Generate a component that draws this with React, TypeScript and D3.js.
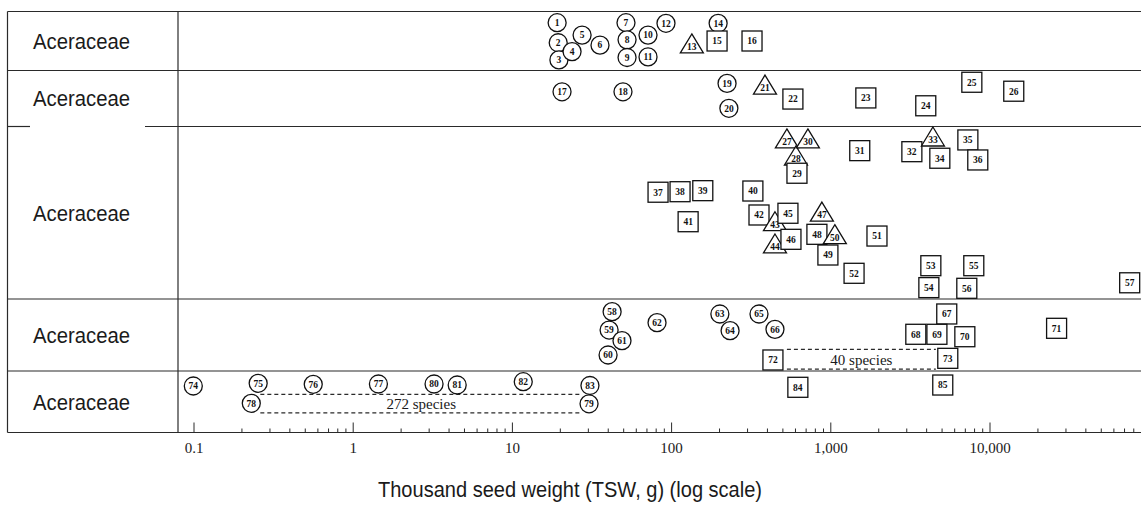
import React, { useEffect, useRef } from "react";
import * as d3 from "d3";

type Shape = "c" | "t" | "s"; // circle, triangle, square
// [species number, marker shape, thousand seed weight (g), vertical level inside band 0..1]
type Seed = [number, Shape, number, number];

const bandLabels = ["Aceraceae", "Aceraceae", "Aceraceae", "Aceraceae", "Aceraceae"];

const band1: Seed[] = [
  [1, "c", 19.1, 0.19], [2, "c", 19.4, 0.53], [3, "c", 19.6, 0.82], [4, "c", 23.7, 0.68],
  [5, "c", 27.4, 0.4], [6, "c", 35.5, 0.57], [7, "c", 51.7, 0.19], [8, "c", 52.5, 0.48],
  [9, "c", 52.5, 0.78], [10, "c", 71.1, 0.4], [11, "c", 71.1, 0.77], [12, "c", 92.2, 0.2],
  [13, "t", 134, 0.55], [14, "c", 196, 0.2], [15, "s", 193, 0.5], [16, "s", 320, 0.5],
];

const band2: Seed[] = [
  [17, "c", 20.5, 0.38], [18, "c", 49.5, 0.38], [19, "c", 223, 0.23], [20, "c", 229, 0.675],
  [21, "t", 386, 0.26], [22, "s", 578, 0.51], [23, "s", 1660, 0.49], [24, "s", 3950, 0.63],
  [25, "s", 7690, 0.21], [26, "s", 14100, 0.37],
];

const band3: Seed[] = [
  [27, "t", 530, 0.072], [28, "t", 604, 0.171], [29, "s", 613, 0.271], [30, "t", 718, 0.072],
  [31, "s", 1520, 0.14], [32, "s", 3230, 0.146], [33, "t", 4380, 0.061], [34, "s", 4840, 0.184],
  [35, "s", 7260, 0.078], [36, "s", 8380, 0.194], [37, "s", 82.2, 0.381], [38, "s", 113, 0.378],
  [39, "s", 157, 0.372], [40, "s", 324, 0.374], [41, "s", 127, 0.552], [42, "s", 354, 0.513],
  [43, "t", 446, 0.552], [44, "t", 446, 0.681], [45, "s", 538, 0.503], [46, "s", 562, 0.654],
  [47, "t", 879, 0.496], [48, "s", 818, 0.625], [49, "s", 959, 0.745], [50, "t", 1060, 0.627],
  [51, "s", 1950, 0.635], [52, "s", 1400, 0.851], [53, "s", 4250, 0.807], [54, "s", 4130, 0.934],
  [55, "s", 7910, 0.807], [56, "s", 7150, 0.938], [57, "s", 75400, 0.906],
];

const band4: Seed[] = [
  [58, "c", 42.3, 0.176], [59, "c", 40.5, 0.431], [60, "c", 39.9, 0.778], [61, "c", 48.8, 0.579],
  [62, "c", 81.0, 0.329], [63, "c", 201, 0.208], [64, "c", 233, 0.44], [65, "c", 354, 0.208],
  [66, "c", 446, 0.421], [67, "s", 5350, 0.208], [68, "s", 3420, 0.49], [69, "s", 4640, 0.49],
  [70, "s", 6950, 0.524], [71, "s", 26200, 0.407], [72, "s", 433, 0.847], [73, "s", 5430, 0.824],
];

const band5: Seed[] = [
  [74, "c", 0.099, 0.244], [75, "c", 0.253, 0.2], [76, "c", 0.561, 0.216], [77, "c", 1.44, 0.211],
  [78, "c", 0.229, 0.525], [79, "c", 30.3, 0.533], [80, "c", 3.22, 0.211], [81, "c", 4.5, 0.228],
  [82, "c", 11.7, 0.174], [83, "c", 30.7, 0.236], [84, "s", 621, 0.265], [85, "s", 5050, 0.228],
];

const bands: Seed[][] = [band1, band2, band3, band4, band5];

// grouped species ranges: [band index, label, from TSW, to TSW, top level, bottom level]
const speciesRanges: [number, string, number, number, number, number][] = [
  [3, "40 species", 530, 4570, 0.7, 0.975],
  [4, "272 species", 0.261, 27.4, 0.38, 0.68],
];

const tickLabels = [0.1, 1, 10, 100, 1000, 10000];
const axisTitle = "Thousand seed weight (TSW, g) (log scale)";

const W = 1141;
const H = 508;
const bandEdges = [11.5, 70.5, 126.5, 299, 371, 432.5];
const frameLeft = 7.5;
const plotLeft = 178;
const ink = "#2a2a2a";
const serif = "'Liberation Serif', 'Times New Roman', serif";
const sans = "'Liberation Sans', Arial, sans-serif";

export default function App() {
  const svgRef = useRef<SVGSVGElement>(null);

  useEffect(() => {
    if (!svgRef.current) return;
    const svg = d3.select(svgRef.current);
    svg.selectAll("*").remove();

    svg.append("rect").attr("width", W).attr("height", H).attr("fill", "white");

    const x = d3.scaleLog().domain([0.1, 10000]).range([194, 990]);
    const axisY = bandEdges[bandEdges.length - 1];

    const frame = svg.append("g").attr("stroke", ink).attr("stroke-width", 1.2).attr("fill", "none");
    // horizontal band rules (the third one has a gap in the label column)
    bandEdges.forEach((y, i) => {
      if (i === 2) {
        frame.append("line").attr("x1", frameLeft).attr("x2", 30).attr("y1", y).attr("y2", y);
        frame.append("line").attr("x1", 145).attr("x2", W).attr("y1", y).attr("y2", y);
      } else {
        frame.append("line").attr("x1", frameLeft).attr("x2", W).attr("y1", y).attr("y2", y);
      }
    });
    frame.append("line").attr("x1", frameLeft).attr("x2", frameLeft)
      .attr("y1", bandEdges[0]).attr("y2", axisY);
    frame.append("line").attr("x1", plotLeft).attr("x2", plotLeft)
      .attr("y1", bandEdges[0]).attr("y2", axisY);

    // band labels (condensed, no narrow font installed)
    svg.append("g").selectAll("text").data(bandLabels).enter().append("text")
      .attr("x", 33)
      .attr("y", (d, i) => (bandEdges[i] + bandEdges[i + 1]) / 2)
      .attr("dy", "0.36em")
      .attr("font-family", sans)
      .attr("font-size", 22)
      .attr("textLength", 97)
      .attr("lengthAdjust", "spacingAndGlyphs")
      .attr("fill", "#1a1a1a")
      .text((d) => d);

    // axis ticks
    const tickScale = d3.scaleLog().domain([0.1, x.invert(W)]);
    const ticks = tickScale.ticks().filter((t) => x(t) <= W - 1);
    const isMajor = (t: number) => Math.abs(Math.log10(t) - Math.round(Math.log10(t))) < 1e-6;
    svg.append("g").attr("stroke", ink).attr("stroke-width", 1)
      .selectAll("line").data(ticks).enter().append("line")
      .attr("x1", (d) => x(d)).attr("x2", (d) => x(d))
      .attr("y1", axisY)
      .attr("y2", (d) => axisY - (isMajor(d) ? 10 : 4));

    svg.append("g").selectAll("text").data(tickLabels).enter().append("text")
      .attr("x", (d) => x(d))
      .attr("y", 452.5)
      .attr("text-anchor", "middle")
      .attr("font-family", serif)
      .attr("font-size", 15)
      .attr("fill", "#1a1a1a")
      .text((d) => d3.format(",")(d));

    svg.append("text")
      .attr("x", 570).attr("y", 497)
      .attr("text-anchor", "middle")
      .attr("font-family", sans)
      .attr("font-size", 22)
      .attr("textLength", 384)
      .attr("lengthAdjust", "spacingAndGlyphs")
      .attr("fill", "#1a1a1a")
      .text(axisTitle);

    const levelY = (band: number, level: number) =>
      bandEdges[band] + level * (bandEdges[band + 1] - bandEdges[band]);

    // species range brackets
    speciesRanges.forEach(([band, label, from, to, top, bottom]) => {
      const g = svg.append("g");
      [top, bottom].forEach((lv) => {
        g.append("line")
          .attr("x1", x(from)).attr("x2", x(to))
          .attr("y1", levelY(band, lv)).attr("y2", levelY(band, lv))
          .attr("stroke", ink).attr("stroke-width", 1.3).attr("stroke-dasharray", "4,3");
      });
      g.append("text")
        .attr("x", (x(from) + x(to)) / 2)
        .attr("y", levelY(band, (top + bottom) / 2))
        .attr("dy", "0.35em")
        .attr("text-anchor", "middle")
        .attr("font-family", serif)
        .attr("font-size", 15)
        .attr("fill", "#1a1a1a")
        .text(label);
    });

    // seed markers
    const seeds = bands.flatMap((b, bi) => b.map((s) => ({ band: bi, id: s[0], shape: s[1], tsw: s[2], level: s[3] })));
    seeds.sort((a, b) => a.id - b.id);
    const marks = svg.append("g").selectAll("g").data(seeds).enter().append("g")
      .attr("transform", (d) => `translate(${x(d.tsw)},${levelY(d.band, d.level)})`);

    marks.each(function (d) {
      const g = d3.select(this);
      if (d.shape === "c") {
        g.append("circle").attr("r", 9);
      } else if (d.shape === "s") {
        g.append("rect").attr("x", -10).attr("y", -10).attr("width", 20).attr("height", 20);
      } else {
        g.append("path").attr("d", "M0,-10 L11.5,9 L-11.5,9 Z");
      }
    });
    marks.selectAll("circle, rect, path")
      .attr("fill", "white").attr("stroke", "#111").attr("stroke-width", 1.3);

    marks.append("text")
      .attr("y", (d) => (d.shape === "t" ? 3 : 0))
      .attr("dy", "0.35em")
      .attr("text-anchor", "middle")
      .attr("font-family", serif)
      .attr("font-weight", "bold")
      .attr("font-size", 9.5)
      .attr("fill", "#111")
      .text((d) => d.id);
  }, []);

  return (
    <svg
      ref={svgRef}
      width={W}
      height={H}
      style={{ position: "absolute", left: 0, top: 0, display: "block" }}
    />
  );
}
